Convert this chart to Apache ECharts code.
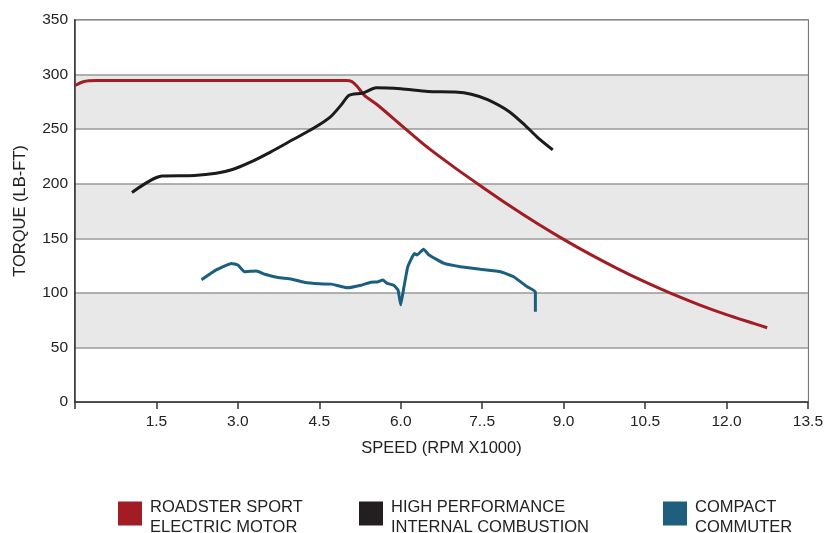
<!DOCTYPE html>
<html>
<head>
<meta charset="utf-8">
<script src="https://cdn.jsdelivr.net/npm/echarts@6/dist/echarts.min.js"></script>
<style>html,body{margin:0;padding:0;background:#fff}#c{width:826px;height:533px}</style>
</head>
<body>
<div id="c"></div>
<script>
// ---- data (x in RPM x1000, y in LB-FT) ----
var xTickLabels = ['', '1.5', '3.0', '4.5', '6.0', '7..5', '9.0', '10.5', '12.0', '13.5'];
var yTickLabels = ['0', '50', '100', '150', '200', '250', '300', '350'];

var seriesNames = ['ROADSTER SPORT\nELECTRIC MOTOR', 'HIGH PERFORMANCE\nINTERNAL COMBUSTION', 'COMPACT\nCOMMUTER'];

var roadsterX = [0, 0.15, 0.4, 1.0, 2.0, 3.0, 4.0, 5.0, 5.1, 5.2, 5.33, 5.55, 6.0, 6.5, 7.0, 7.5, 8.0, 8.5, 9.0, 9.5, 10.0, 10.5, 11.0, 11.5, 12.0, 12.5, 12.75];
var roadsterY = [290, 293.5, 294.5, 294.5, 294.5, 294.5, 294.5, 294.5, 293.5, 289, 281, 273, 254, 233, 214.5, 197, 180, 164, 149, 135, 122, 110, 99, 89, 80, 72, 68];

var highPerfX = [1.05, 1.6, 2.2, 2.6, 2.9, 3.2, 3.6, 4.0, 4.4, 4.7, 4.9, 5.05, 5.3, 5.55, 6.0, 6.5, 7.0, 7.3, 7.6, 8.0, 8.3, 8.55, 8.8];
var highPerfY = [192, 207, 207.5, 209.5, 213, 219, 229, 240, 251, 261, 272, 281, 283, 288, 287, 284.5, 284, 282, 277, 266, 253, 241, 231];

var commuterX = [2.33, 2.6, 2.88, 3.0, 3.12, 3.34, 3.5, 3.74, 3.98, 4.22, 4.5, 4.72, 5.02, 5.27, 5.45, 5.57, 5.67, 5.75, 5.87, 5.95, 6.0, 6.06, 6.13, 6.25, 6.3, 6.42, 6.52, 6.8, 7.1, 7.47, 7.84, 8.08, 8.33, 8.48, 8.48];
var commuterY = [112, 121, 127, 125.5, 119.4, 120, 117, 114, 112.7, 109.7, 108.3, 108, 104.7, 107, 109.7, 110, 111.8, 108.7, 107, 102.6, 89, 105.6, 124, 136, 134.7, 140, 134.7, 127, 124, 121.6, 119.4, 114.8, 105.6, 101, 82.7];

function pairs(xs, ys) { return xs.map(function (x, i) { return [x, ys[i]]; }); }

var colors = ['#a21c24', '#1c1a1b', '#1b5f80'];
var font = 'Liberation Sans, Arial, sans-serif';
// square swatch sitting in the upper part of a taller icon box (so it sits a little above the text centre)
var swatchIcon = 'path://M0,0L24,0L24,24L0,24Z M0,31L0.01,31';

var chart = echarts.init(document.getElementById('c'), null, { renderer: 'canvas' });

function legendFor(i, left) {
  return {
    data: [seriesNames[i]],
    left: left,
    top: 497,
    padding: 0,
    icon: swatchIcon,
    itemWidth: 24,
    itemHeight: 31,
    selectedMode: false,
    textStyle: { fontFamily: font, fontSize: 16.5, color: '#222', lineHeight: 20, padding: [0, 0, 0, 3] }
  };
}

chart.setOption({
  animation: false,
  backgroundColor: '#fff',
  color: colors,
  grid: { left: 75, right: 18, top: 20, bottom: 131, show: true, borderColor: '#333', borderWidth: 1.5, backgroundColor: 'transparent' },
  legend: [legendFor(0, 118), legendFor(1, 359), legendFor(2, 663)],
  xAxis: {
    type: 'value', min: 0, max: 13.5, interval: 1.5,
    name: 'SPEED (RPM X1000)', nameLocation: 'middle', nameGap: 38,
    nameTextStyle: { fontFamily: font, fontSize: 16.5, color: '#222' },
    axisLine: { show: true, lineStyle: { color: '#333', width: 1.5 } },
    axisTick: { show: true, length: 7, lineStyle: { color: '#333', width: 1.5 } },
    axisLabel: {
      fontFamily: font, fontSize: 15.5, color: '#222', margin: 12,
      formatter: function (v) { var i = Math.round(v / 1.5); return xTickLabels[i] || ''; }
    },
    splitLine: { show: false }
  },
  yAxis: {
    type: 'value', min: 0, max: 350, interval: 50,
    name: 'TORQUE (LB-FT)', nameLocation: 'middle', nameGap: 46,
    nameTextStyle: { fontFamily: font, fontSize: 16.5, color: '#222' },
    axisLine: { show: true, lineStyle: { color: '#333', width: 1.5 } },
    axisTick: { show: false },
    axisLabel: {
      fontFamily: font, fontSize: 15.5, color: '#222', margin: 7,
      formatter: function (v) { var i = Math.round(v / 50); return yTickLabels[i]; }
    },
    splitLine: { show: true, lineStyle: { color: '#999', width: 1.5 } },
    splitArea: { show: true, areaStyle: { color: ['#ffffff', '#e8e8e8'] } }
  },
  series: [
    { name: seriesNames[0], type: 'line', data: pairs(roadsterX, roadsterY), showSymbol: false, smooth: 0.25, lineStyle: { width: 3, color: colors[0] }, itemStyle: { color: colors[0] } },
    { name: seriesNames[1], type: 'line', data: pairs(highPerfX, highPerfY), showSymbol: false, smooth: 0.25, lineStyle: { width: 3, color: colors[1] }, itemStyle: { color: '#231f20' } },
    { name: seriesNames[2], type: 'line', data: pairs(commuterX, commuterY), showSymbol: false, smooth: 0.1, lineStyle: { width: 3, color: colors[2] }, itemStyle: { color: '#1e5f7e' } }
  ]
});
</script>
</body>
</html>
